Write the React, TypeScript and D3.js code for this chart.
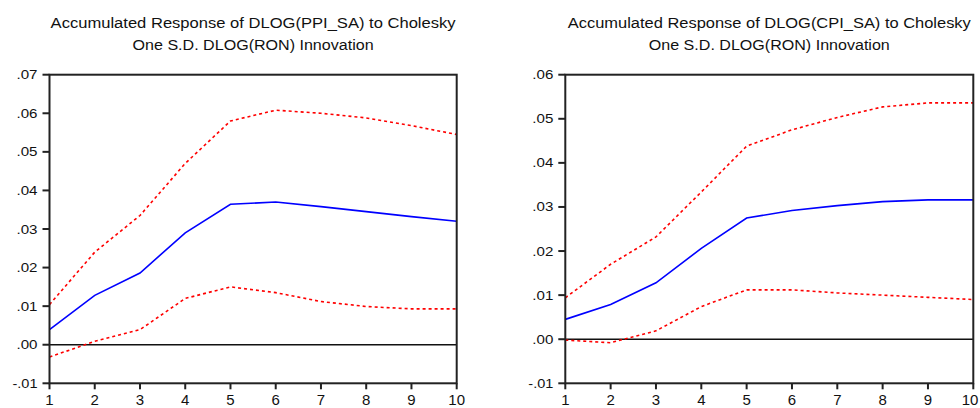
import React from "react";
import * as d3 from "d3";

const periods = [1, 2, 3, 4, 5, 6, 7, 8, 9, 10];

const ppiResponse = [0.0039, 0.0128, 0.0186, 0.029, 0.0364, 0.037, 0.0358, 0.0345, 0.0332, 0.032];
const ppiUpper = [0.0104, 0.024, 0.0335, 0.047, 0.058, 0.0608, 0.06, 0.0588, 0.0568, 0.0545];
const ppiLower = [-0.0032, 0.0009, 0.0039, 0.012, 0.015, 0.0135, 0.0112, 0.0099, 0.0093, 0.0093];

const cpiResponse = [0.0045, 0.0079, 0.0128, 0.0206, 0.0275, 0.0292, 0.0303, 0.0312, 0.0316, 0.0316];
const cpiUpper = [0.0094, 0.017, 0.0232, 0.0334, 0.0438, 0.0475, 0.0503, 0.0527, 0.0536, 0.0536];
const cpiLower = [-0.0002, -0.0008, 0.0019, 0.0074, 0.0112, 0.0112, 0.0105, 0.01, 0.0095, 0.009];

const ppiTicks = [-0.01, 0.0, 0.01, 0.02, 0.03, 0.04, 0.05, 0.06, 0.07];
const cpiTicks = [-0.01, 0.0, 0.01, 0.02, 0.03, 0.04, 0.05, 0.06];

const ppiTitle = ["Accumulated Response of DLOG(PPI_SA) to Cholesky", "One S.D. DLOG(RON) Innovation"];
const cpiTitle = ["Accumulated Response of DLOG(CPI_SA) to Cholesky", "One S.D. DLOG(RON) Innovation"];

const fmt = (v: number) => {
  const s = v.toFixed(2);
  return s.replace(/^(-?)0\./, "$1.");
};

type PanelProps = {
  x0: number;
  x1: number;
  y0: number;
  y1: number;
  ticks: number[];
  response: number[];
  upper: number[];
  lower: number[];
  title: string[];
  title1Width: number;
};

function Panel({ x0, x1, y0, y1, ticks, response, upper, lower, title, title1Width }: PanelProps) {
  const x = d3.scaleLinear().domain([1, 10]).range([x0, x1]);
  const yMin = d3.min(ticks) as number;
  const yMax = d3.max(ticks) as number;
  const y = d3.scaleLinear().domain([yMin, yMax]).range([y1, y0]);
  const line = d3
    .line<number>()
    .x((_, i) => x(periods[i]))
    .y((d) => y(d));
  const cx = (x0 + x1) / 2;
  const font = "'Liberation Sans', Arial, sans-serif";
  return (
    <g>
      <text x={cx} y={28} textAnchor="middle" fontFamily={font} fontSize={14} textLength={title1Width} lengthAdjust="spacingAndGlyphs" fill="#111">
        {title[0]}
      </text>
      <text x={cx} y={50} textAnchor="middle" fontFamily={font} fontSize={14} textLength={241} lengthAdjust="spacingAndGlyphs" fill="#111">
        {title[1]}
      </text>
      <line x1={x0} x2={x1} y1={y(0)} y2={y(0)} stroke="#111" strokeWidth={1.5} />
      <path d={line(lower) || ""} fill="none" stroke="#ff0000" strokeWidth={1.6} strokeDasharray="3,3" />
      <path d={line(upper) || ""} fill="none" stroke="#ff0000" strokeWidth={1.6} strokeDasharray="3,3" />
      <path d={line(response) || ""} fill="none" stroke="#0000ff" strokeWidth={1.6} />
      <rect x={x0} y={y0} width={x1 - x0} height={y1 - y0} fill="none" stroke="#222" strokeWidth={2} />
      {ticks.map((t) => (
        <g key={t}>
          <line x1={x0 - 7} x2={x0} y1={y(t)} y2={y(t)} stroke="#222" strokeWidth={2} />
          <text
            x={x0 - 12}
            y={y(t) + 4.5}
            textAnchor="end"
            fontFamily={font}
            fontSize={13}
            textLength={t < 0 ? 25 : 21}
            lengthAdjust="spacingAndGlyphs"
            fill="#111"
          >
            {fmt(t)}
          </text>
        </g>
      ))}
      {periods.map((p) => (
        <g key={p}>
          <line x1={x(p)} x2={x(p)} y1={y1} y2={y1 + 6} stroke="#222" strokeWidth={2} />
          <text x={Math.min(x(p), 970)} y={405} textAnchor="middle" fontFamily={font} fontSize={15} fill="#111">
            {p}
          </text>
        </g>
      ))}
    </g>
  );
}

export default function App() {
  return (
    <svg
      width={980}
      height={408}
      style={{ position: "fixed", left: 0, top: 0, background: "#fff", display: "block" }}
    >
      <rect x={0} y={0} width={980} height={408} fill="#fff" />
      <Panel
        x0={49.5}
        x1={456.7}
        y0={74.7}
        y1={383.3}
        ticks={ppiTicks}
        response={ppiResponse}
        upper={ppiUpper}
        lower={ppiLower}
        title={ppiTitle}
        title1Width={405}
      />
      <Panel
        x0={565.3}
        x1={973.3}
        y0={74.7}
        y1={383.3}
        ticks={cpiTicks}
        response={cpiResponse}
        upper={cpiUpper}
        lower={cpiLower}
        title={cpiTitle}
        title1Width={403}
      />
    </svg>
  );
}
